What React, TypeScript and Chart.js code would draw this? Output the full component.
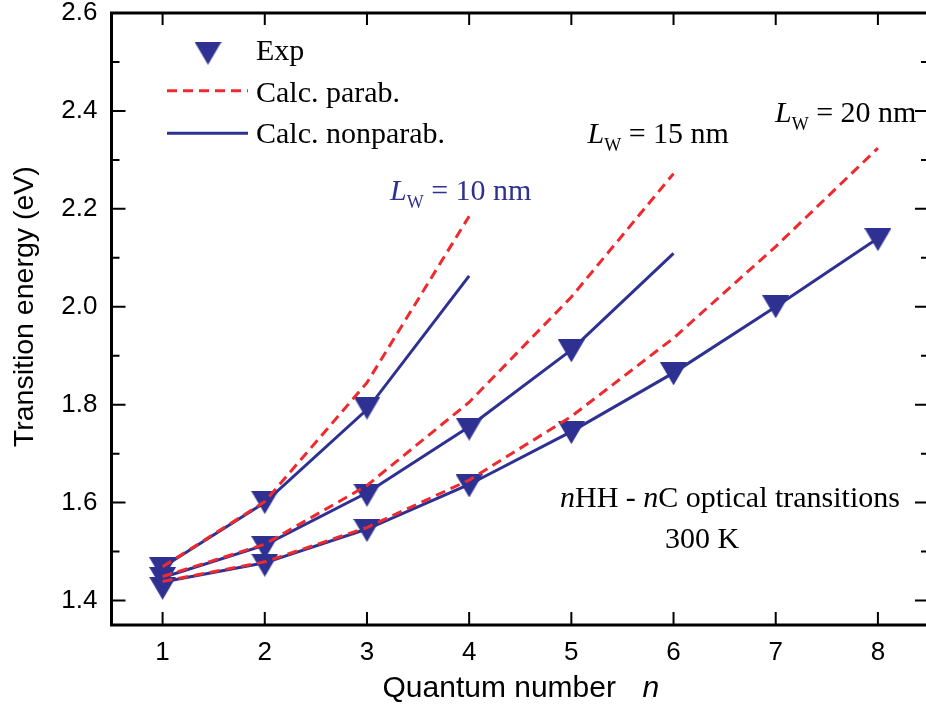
import { useEffect, useRef } from 'react';
import { Chart, registerables } from 'chart.js';

Chart.register(...registerables);

// Quantum numbers n and axis ticks
const quantumN = [1, 2, 3, 4, 5, 6, 7, 8];
const xTicks = [1, 2, 3, 4, 5, 6, 7, 8];
const yMajorTicks = [1.4, 1.6, 1.8, 2.0, 2.2, 2.4, 2.6];
const yMinorTicks = [1.5, 1.7, 1.9, 2.1, 2.3, 2.5];

// Measured nHH - nC transition energies (eV)
const exp10 = [1.465, 1.6, 1.793];
const exp15 = [1.445, 1.508, 1.615, 1.75, 1.91];
const exp20 = [1.425, 1.472, 1.543, 1.634, 1.743, 1.863, 2.0, 2.137];

// Calculated, parabolic bands (eV)
const parab10 = [1.469, 1.602, 1.845, 2.185];
const parab15 = [1.449, 1.515, 1.635, 1.805, 2.02, 2.272];
const parab20 = [1.439, 1.479, 1.549, 1.646, 1.776, 1.936, 2.123, 2.324];

// Calculated, nonparabolic bands (eV)
const nonparab10 = [1.468, 1.6, 1.79, 2.063];
const nonparab15 = [1.447, 1.513, 1.62, 1.755, 1.912, 2.109];
const nonparab20 = [1.438, 1.477, 1.546, 1.637, 1.745, 1.865, 2.0, 2.14];

const NAVY = '#2E3192';
const RED = '#EE2A2F';
const SANS = '"Liberation Sans", Arial, Helvetica, sans-serif';
const SERIF = '"Liberation Serif", "Times New Roman", Times, serif';
const LINE_W = 3;

const toPoints = (vals: number[]) => vals.map((v, i) => ({ x: quantumN[i], y: v }));

function makeTriangle(w: number, h: number, color: string) {
  const c = document.createElement('canvas');
  c.width = w;
  c.height = h;
  const g = c.getContext('2d')!;
  g.fillStyle = color;
  g.beginPath();
  g.moveTo(0, 0);
  g.lineTo(w, 0);
  g.lineTo(w / 2, h);
  g.closePath();
  g.fill();
  return c;
}

type Run = { text: string; italic?: boolean; size?: number; dy?: number };

function drawRuns(ctx: CanvasRenderingContext2D, x: number, y: number, runs: Run[], color: string) {
  let cx = x;
  ctx.fillStyle = color;
  ctx.textAlign = 'left';
  ctx.textBaseline = 'alphabetic';
  for (const r of runs) {
    ctx.font = `${r.italic ? 'italic ' : ''}${r.size ?? 30}px ${SERIF}`;
    ctx.fillText(r.text, cx, y + (r.dy ?? 0));
    cx += ctx.measureText(r.text).width;
  }
}

export default function App() {
  const canvasRef = useRef<HTMLCanvasElement | null>(null);

  useEffect(() => {
    const canvas = canvasRef.current;
    if (!canvas) return;
    const tri = makeTriangle(27, 23, NAVY);

    const decor = {
      id: 'decor',
      afterDraw(chart: any) {
        const ctx: CanvasRenderingContext2D = chart.ctx;
        const { left, right, top, bottom } = chart.chartArea;
        const xs = chart.scales.x;
        const ys = chart.scales.y;
        ctx.save();

        // tick marks pointing inward on all four sides
        ctx.strokeStyle = '#000';
        ctx.lineWidth = 2;
        ctx.setLineDash([]);
        ctx.beginPath();
        for (const v of xTicks) {
          const px = xs.getPixelForValue(v);
          ctx.moveTo(px, bottom);
          ctx.lineTo(px, bottom - 13);
          ctx.moveTo(px, top);
          ctx.lineTo(px, top + 12);
        }
        for (const v of yMajorTicks) {
          const py = ys.getPixelForValue(v);
          ctx.moveTo(left, py);
          ctx.lineTo(left + 14, py);
          ctx.moveTo(right, py);
          ctx.lineTo(right - 14, py);
        }
        for (const v of yMinorTicks) {
          const py = ys.getPixelForValue(v);
          ctx.moveTo(left, py);
          ctx.lineTo(left + 8, py);
          ctx.moveTo(right, py);
          ctx.lineTo(right - 8, py);
        }
        ctx.stroke();

        // frame
        ctx.lineWidth = 3;
        ctx.strokeRect(left, top, right - left, bottom - top);

        // axis titles
        ctx.fillStyle = '#000';
        ctx.textBaseline = 'alphabetic';
        ctx.font = `30px ${SANS}`;
        ctx.textAlign = 'left';
        ctx.fillText('Quantum number', 382.5, 697);
        ctx.font = `italic 30px ${SANS}`;
        ctx.fillText('n', 642.5, 697);

        ctx.save();
        ctx.translate(33, 306.7);
        ctx.rotate(-Math.PI / 2);
        ctx.font = `28.5px ${SANS}`;
        ctx.textAlign = 'center';
        ctx.fillText('Transition energy (eV)', 0, 0);
        ctx.restore();

        // legend
        ctx.drawImage(tri, 208 - 13.5, 53.3 - 11.5);
        ctx.lineWidth = LINE_W;
        ctx.strokeStyle = RED;
        ctx.setLineDash([10, 6]);
        ctx.beginPath();
        ctx.moveTo(167, 90.7);
        ctx.lineTo(248, 90.7);
        ctx.stroke();
        ctx.setLineDash([]);
        ctx.strokeStyle = NAVY;
        ctx.beginPath();
        ctx.moveTo(167, 133.3);
        ctx.lineTo(248, 133.3);
        ctx.stroke();
        drawRuns(ctx, 256, 60, [{ text: 'Exp' }], '#000');
        drawRuns(ctx, 256, 101.7, [{ text: 'Calc. parab.' }], '#000');
        drawRuns(ctx, 256, 142.7, [{ text: 'Calc. nonparab.' }], '#000');

        // well-width labels
        drawRuns(ctx, 390, 200, [
          { text: 'L', italic: true },
          { text: 'W', size: 18, dy: 8 },
          { text: ' = 10 nm' },
        ], NAVY);
        drawRuns(ctx, 587.5, 143.3, [
          { text: 'L', italic: true },
          { text: 'W', size: 18, dy: 8 },
          { text: ' = 15 nm' },
        ], '#000');
        drawRuns(ctx, 775, 121.7, [
          { text: 'L', italic: true },
          { text: 'W', size: 18, dy: 8 },
          { text: ' = 20 nm' },
        ], '#000');

        // transition note
        drawRuns(ctx, 560, 506.7, [
          { text: 'n', italic: true },
          { text: 'HH - ' },
          { text: 'n', italic: true },
          { text: 'C optical transitions' },
        ], '#000');
        drawRuns(ctx, 665, 548.3, [{ text: '300 K' }], '#000');

        ctx.restore();
      },
    };

    const parabStyle = {
      showLine: true,
      borderColor: RED,
      borderWidth: LINE_W,
      borderDash: [10, 6],
      pointRadius: 0,
      fill: false,
      tension: 0,
      order: 0,
    };
    const nonparabStyle = {
      showLine: true,
      borderColor: NAVY,
      borderWidth: LINE_W,
      pointRadius: 0,
      fill: false,
      tension: 0,
      order: 2,
    };
    const expStyle = {
      showLine: false,
      pointStyle: tri,
      pointRadius: 12,
      backgroundColor: NAVY,
      borderColor: NAVY,
      order: 1,
    };

    const chart = new Chart(canvas, {
      type: 'scatter',
      data: {
        datasets: [
          { label: 'Calc. parab. 10 nm', data: toPoints(parab10), ...parabStyle },
          { label: 'Calc. parab. 15 nm', data: toPoints(parab15), ...parabStyle },
          { label: 'Calc. parab. 20 nm', data: toPoints(parab20), ...parabStyle },
          { label: 'Exp 10 nm', data: toPoints(exp10), ...expStyle },
          { label: 'Exp 15 nm', data: toPoints(exp15), ...expStyle },
          { label: 'Exp 20 nm', data: toPoints(exp20), ...expStyle },
          { label: 'Calc. nonparab. 10 nm', data: toPoints(nonparab10), ...nonparabStyle },
          { label: 'Calc. nonparab. 15 nm', data: toPoints(nonparab15), ...nonparabStyle },
          { label: 'Calc. nonparab. 20 nm', data: toPoints(nonparab20), ...nonparabStyle },
        ] as any,
      },
      options: {
        responsive: false,
        animation: false,
        devicePixelRatio: 1,
        layout: { padding: { top: 13, right: 31, left: 0, bottom: 0 } },
        plugins: {
          legend: { display: false },
          tooltip: { enabled: false },
        },
        scales: {
          x: {
            type: 'linear',
            position: 'bottom',
            min: 0.5,
            max: 8.5,
            afterBuildTicks: (s: any) => {
              s.ticks = xTicks.map((v) => ({ value: v }));
            },
            afterFit: (s: any) => {
              s.height = 84;
              s.paddingLeft = 0;
              s.paddingRight = 0;
            },
            grid: { display: true, drawOnChartArea: false, drawTicks: false },
            border: { display: false },
            ticks: {
              color: '#000',
              font: { family: SANS, size: 26 },
              padding: 12,
              maxRotation: 0,
              autoSkip: false,
              callback: (v: any) => String(v),
            },
          },
          y: {
            type: 'linear',
            position: 'left',
            min: 1.35,
            max: 2.6,
            afterBuildTicks: (s: any) => {
              s.ticks = yMajorTicks.map((v) => ({ value: v }));
            },
            afterFit: (s: any) => {
              s.width = 111.5;
              s.paddingTop = 0;
              s.paddingBottom = 0;
            },
            grid: { display: true, drawOnChartArea: false, drawTicks: false },
            border: { display: false },
            ticks: {
              color: '#000',
              font: { family: SANS, size: 26 },
              padding: 14,
              autoSkip: false,
              callback: (v: any) => Number(v).toFixed(1),
            },
          },
        },
      },
      plugins: [decor],
    });

    return () => chart.destroy();
  }, []);

  return (
    <div
      style={{
        position: 'fixed',
        left: 0,
        top: 0,
        width: 926,
        height: 709,
        overflow: 'hidden',
        background: '#fff',
      }}
    >
      <canvas ref={canvasRef} width={960} height={709} style={{ display: 'block' }} />
    </div>
  );
}
